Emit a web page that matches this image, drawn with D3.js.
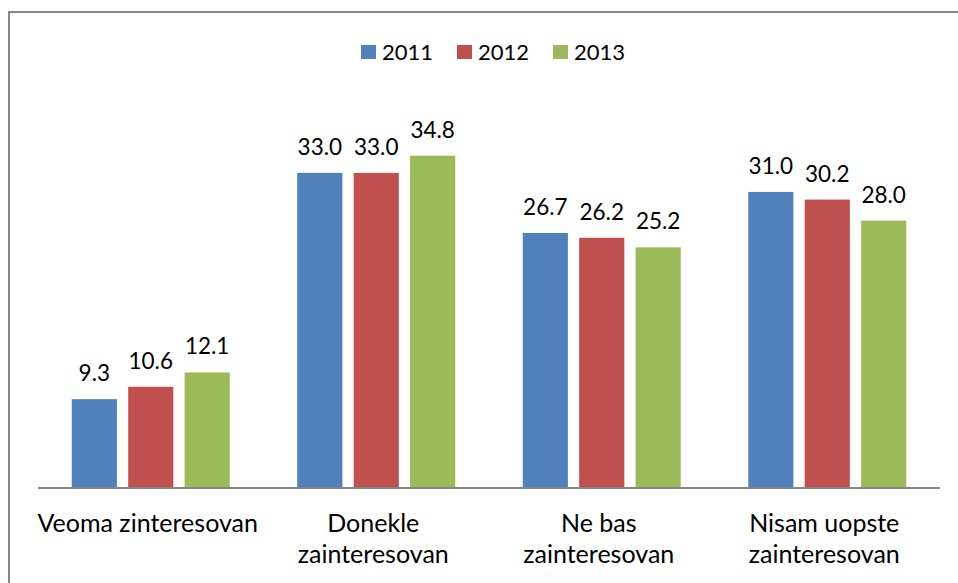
<html>
<head>
<script src="https://d3js.org/d3.v7.min.js"></script>
<style>
  body { margin: 0; background: #fff; }
  text { font-family: Lato, "Open Sans", sans-serif; fill: #000; }
</style>
</head>
<body>
<svg width="958" height="583"></svg>
<script>
const categories = [["Veoma zinteresovan"], ["Donekle", "zainteresovan"], ["Ne bas", "zainteresovan"], ["Nisam uopste", "zainteresovan"]];
const years = ["2011", "2012", "2013"];
const v2011 = [9.3, 33.0, 26.7, 31.0];
const v2012 = [10.6, 33.0, 26.2, 30.2];
const v2013 = [12.1, 34.8, 25.2, 28.0];
const colors = ["#4F81BD", "#C0504D", "#9BBB59"];

const series = [v2011, v2012, v2013];
const svg = d3.select("svg");

// chart frame
svg.append("path")
  .attr("d", "M9,583 V12 H958")
  .attr("fill", "none")
  .attr("stroke", "#868686")
  .attr("stroke-width", 2);

const x0 = d3.scaleBand().domain(d3.range(categories.length)).range([38, 940]);
const x1 = d3.scaleBand().domain(d3.range(years.length)).range([0, 158]).paddingInner(0.2);
const y = d3.scaleLinear().domain([0, 40]).range([488, 106]);

const groups = svg.append("g").selectAll("g")
  .data(categories).enter().append("g")
  .attr("transform", (d, i) => "translate(" + (x0(i) + x0.bandwidth() / 2 - 79) + ",0)");

groups.selectAll("rect")
  .data((d, i) => series.map((s, j) => ({v: s[i], j: j})))
  .enter().append("rect")
  .attr("x", d => x1(d.j))
  .attr("y", d => y(d.v))
  .attr("width", x1.bandwidth())
  .attr("height", d => y(0) - y(d.v))
  .attr("fill", d => colors[d.j]);

groups.selectAll("text.val")
  .data((d, i) => series.map((s, j) => ({v: s[i], j: j})))
  .enter().append("text")
  .attr("class", "val")
  .attr("x", d => x1(d.j) + x1.bandwidth() / 2)
  .attr("y", d => y(d.v) - 18)
  .attr("text-anchor", "middle")
  .style("font-size", "22.5px")
  .text(d => d.v.toFixed(1));

// axis line
svg.append("line")
  .attr("x1", 38).attr("x2", 940)
  .attr("y1", y(0)).attr("y2", y(0))
  .attr("stroke", "#868686")
  .attr("stroke-width", 2);

// category labels
const lab = svg.append("g").selectAll("text")
  .data(categories).enter().append("text")
  .attr("text-anchor", "middle")
  .style("font-size", "25px");
lab.selectAll("tspan")
  .data((d, i) => d.map(t => ({t: t, i: i})))
  .enter().append("tspan")
  .attr("x", d => x0(d.i) + x0.bandwidth() / 2 - 3)
  .attr("y", (d, k) => 532 + k * 31)
  .text(d => d.t);

// legend
const leg = svg.append("g").selectAll("g")
  .data(years).enter().append("g")
  .attr("transform", (d, i) => "translate(" + (361 + i * 96) + ",45)");
leg.append("rect")
  .attr("width", 15).attr("height", 14)
  .attr("fill", (d, i) => colors[i]);
leg.append("text")
  .attr("x", 21).attr("y", 14.5)
  .style("font-size", "22px")
  .text(d => d);
</script>
</body>
</html>
